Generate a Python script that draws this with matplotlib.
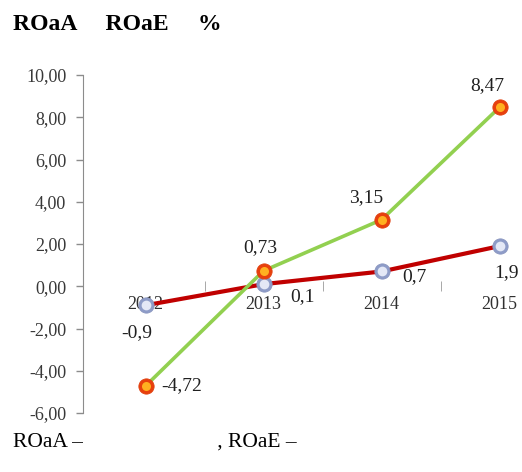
import matplotlib
matplotlib.use('Agg')
import matplotlib.pyplot as plt

years = ['2012', '2013', '2014', '2015']
roaa = [-0.9, 0.1, 0.7, 1.9]
roae = [-4.72, 0.73, 3.15, 8.47]
roaa_labels = ['-0,9', '0,1', '0,7', '1,9']
roae_labels = ['-4,72', '0,73', '3,15', '8,47']
yticks = [-6, -4, -2, 0, 2, 4, 6, 8, 10]

plt.rcParams['font.family'] = ['Liberation Serif', 'DejaVu Serif']

fig = plt.figure(figsize=(5.22, 4.72), dpi=100)
ax = fig.add_axes([83 / 522, 0.125, 475.5 / 522, 0.716])

x = list(range(len(years)))

# lines
ax.plot(x, roaa, color='#C00000', lw=3.0, zorder=3, solid_capstyle='round')
ax.plot(x, roae, color='#92D050', lw=2.6, zorder=4, solid_capstyle='round')

# sphere-ish markers: base + highlight
ax.plot(x, roaa, 'o', ms=11, mfc='#8E9CC8', mec='#8A96C0', mew=0.6, zorder=5)
ax.plot(x, roaa, 'o', ms=7, mfc='#E4E8F6', mec='none', zorder=6)
ax.plot(x, roae, 'o', ms=11, mfc='#E8400C', mec='#E04010', mew=0.6, zorder=5)
ax.plot(x, roae, 'o', ms=6.5, mfc='#FFB020', mec='none', zorder=6)

ax.set_xlim(-0.53, 3.5)
ax.set_ylim(-6, 10)

ax.set_yticks(yticks)
ax.set_yticklabels([('%.2f' % v).replace('.', ',') for v in yticks],
                   fontsize=13, color='#383838')
ax.tick_params(axis='y', direction='out', length=5, color='#8C8C8C', width=1, pad=7)

ax.spines['left'].set_color('#8C8C8C')
ax.spines['top'].set_visible(False)
ax.spines['right'].set_visible(False)
ax.spines['bottom'].set_position(('data', 0))
ax.spines['bottom'].set_color('none')

ax.set_xticks(x)
ax.set_xticklabels(years, fontsize=13, color='#303030')
ax.tick_params(axis='x', length=0, pad=7)
ax.set_xticks([0.5, 1.5, 2.5], minor=True)
ax.tick_params(axis='x', which='minor', length=7, direction='inout', color='#9A9A9A')

# data labels
roaa_off = [(-6, -20), (28, -9), (24, -4), (5, -19)]
for xi, yi, lab, off in zip(x, roaa, roaa_labels, roaa_off):
    ax.annotate(lab, (xi, yi), xytext=off, textcoords='offset points',
                ha='center', va='center', fontsize=14, color='#202020')
roae_off = [(26, 0), (-2, 17), (-11, 16), (-9, 16)]
for xi, yi, lab, off in zip(x, roae, roae_labels, roae_off):
    ax.annotate(lab, (xi, yi), xytext=off, textcoords='offset points',
                ha='center', va='center', fontsize=14, color='#202020')

fig.text(13 / 522, 1 - 25 / 472, 'ROaA     ROaE     %', fontsize=17,
         fontweight='bold', ha='left', va='center')
fig.text(13 / 522, 1 - 442 / 472, 'ROaA \u2013                         , ROaE \u2013',
         fontsize=15.5, ha='left', va='center')

fig.savefig('out.png', dpi=100)
